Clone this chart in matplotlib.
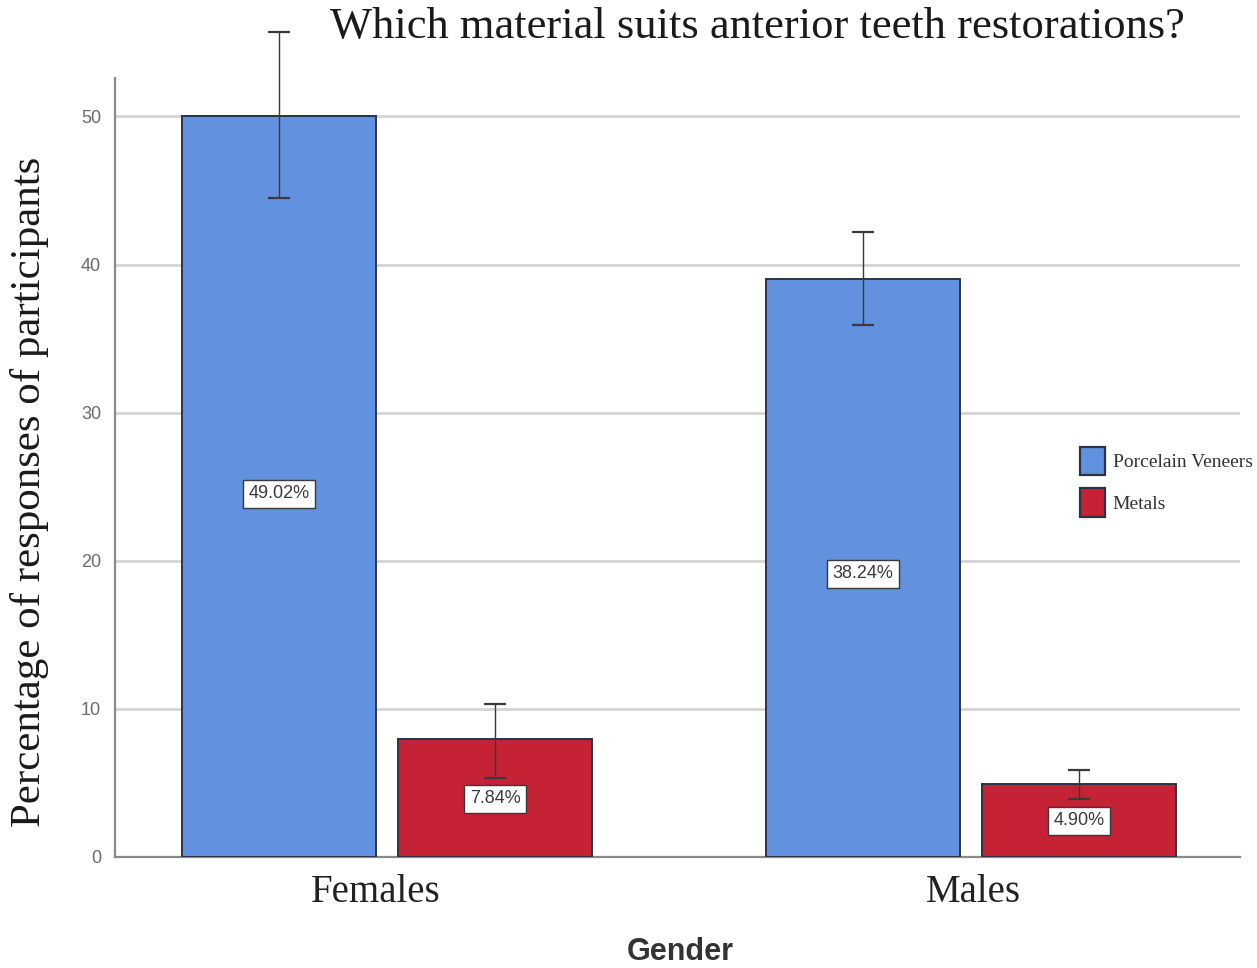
import matplotlib
matplotlib.use("Agg")
import matplotlib.pyplot as plt
from matplotlib.patches import Patch
import numpy as np

# values
groups = ["Females", "Males"]
series = ["Porcelain Veneers", "Metals"]
bar_means = {"Porcelain Veneers": [50.0, 39.0], "Metals": [7.97, 4.95]}
err_low = {"Porcelain Veneers": [44.5, 35.9], "Metals": [5.3, 3.9]}
err_high = {"Porcelain Veneers": [55.7, 42.2], "Metals": [10.3, 5.9]}
pct_labels = {"Porcelain Veneers": [49.02, 38.24], "Metals": [7.84, 4.90]}
yticks = [0, 10, 20, 30, 40, 50]

COLORS = {"Porcelain Veneers": "#6191df", "Metals": "#c62235"}
EDGE = "#2b3347"
GRID = "#d4d4d4"
SPINE = "#8a8a8a"
TICK_TEXT = "#6a6a6a"

fig = plt.figure(figsize=(12.57, 9.68), dpi=100)
ax = fig.add_axes([0.0915, 0.1147, 0.895, 0.8048])

x = np.arange(len(groups))
width = 0.332
offsets = {"Porcelain Veneers": -0.185, "Metals": 0.185}

for name in series:
    xs = x + offsets[name]
    means = np.array(bar_means[name])
    ax.bar(xs, means, width=width, color=COLORS[name], edgecolor=EDGE,
           linewidth=1.4, zorder=3)
    lo = means - np.array(err_low[name])
    hi = np.array(err_high[name]) - means
    eb = ax.errorbar(xs, means, yerr=[lo, hi], fmt="none", ecolor="#3a3a3a",
                     elinewidth=1.0, capsize=8, capthick=1.6, zorder=4)
    for artist in eb.lines[1] + eb.lines[2]:
        artist.set_clip_on(False)
    for xx, p in zip(xs, pct_labels[name]):
        ax.text(xx, p / 2, f"{p:.2f}%", ha="center", va="center",
                fontsize=13, color="#3a3a3a", family="Liberation Sans", zorder=5,
                bbox=dict(boxstyle="square,pad=0.3", facecolor="white",
                          edgecolor="#3a3a3a", linewidth=1.0))

ax.set_xlim(-0.466, 1.461)
ax.set_ylim(0, 52.6)
ax.set_yticks(yticks)
ax.set_yticklabels([str(t) for t in yticks], fontsize=13, color=TICK_TEXT,
                   family="Liberation Sans")
ax.set_xticks(x - np.array([0.02, -0.005]))
ax.set_xticklabels(groups, fontsize=28, family="Liberation Serif", color="#222222")
ax.tick_params(axis="y", length=0, pad=10)
ax.tick_params(axis="x", length=0, pad=12)

ax.grid(axis="y", color=GRID, linewidth=2.0, zorder=0)
ax.set_axisbelow(True)
for spine in ("top", "right"):
    ax.spines[spine].set_visible(False)
for spine in ("left", "bottom"):
    ax.spines[spine].set_color(SPINE)
    ax.spines[spine].set_linewidth(1.6)

fig.text(757 / 1257, 1 - 27 / 968, "Which material suits anterior teeth restorations?",
         ha="center", va="center", fontsize=32, family="Liberation Serif", color="#1a1a1a")
fig.text(30 / 1257, 1 - 492 / 968, "Percentage of responses of participants",
         ha="center", va="center", rotation=90, fontsize=31,
         family="Liberation Serif", color="#1a1a1a")
fig.text(680 / 1257, 1 - 952 / 968, "Gender", ha="center", va="center",
         fontsize=22, fontweight="bold", family="Liberation Sans", color="#333333")

handles = [Patch(facecolor=COLORS[s], edgecolor=EDGE, linewidth=1.6) for s in series]
fig.legend(handles, series, loc="upper left", bbox_to_anchor=(1064 / 1257, 1 - 431 / 968),
           frameon=False, prop={"family": "Liberation Serif", "size": 14},
           handlelength=1.3, handleheight=1.9, handletextpad=0.4, labelspacing=0.66,
           borderpad=0.3, labelcolor="#333333")

fig.savefig("out.png", dpi=100, facecolor="white")
